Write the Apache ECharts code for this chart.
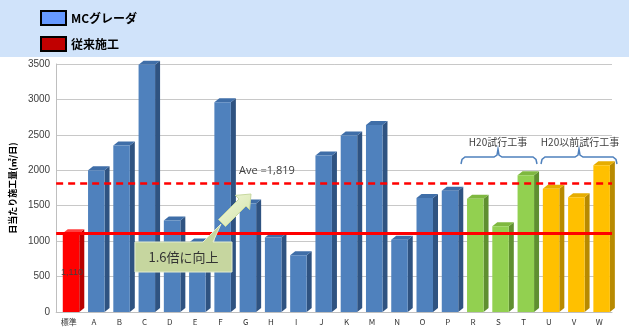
<!DOCTYPE html>
<html>
<head>
<meta charset="utf-8">
<script src="https://cdn.jsdelivr.net/npm/echarts@6/dist/echarts.min.js"></script>
<style>
html,body{margin:0;padding:0;background:#ffffff;}
#chart{width:629px;height:329px;}
</style>
</head>
<body>
<div id="chart"></div>
<script>
const categories = ['標準','A','B','C','D','E','F','G','H','I','J','K','M','N','O','P','R','S','T','U','V','W'];
const values = [1110,2000,2350,3490,1290,980,2960,1530,1050,800,2210,2490,2640,1020,1610,1710,1600,1210,1930,1740,1620,2070];
const groups = ['std','mc','mc','mc','mc','mc','mc','mc','mc','mc','mc','mc','mc','mc','mc','mc','h20','h20','h20','pre','pre','pre'];
const yTicks = [0,500,1000,1500,2000,2500,3000,3500];
const standardValue = 1110;
const averageValue = 1819;

const palette = {
  std: {front:'#ff0000', side:'#b80000', top:'#ff4040'},
  mc:  {front:'#4f81bd', side:'#2f5381', top:'#3f6ea8'},
  h20: {front:'#92d050', side:'#5f8f30', top:'#7fb840'},
  pre: {front:'#ffc000', side:'#b88a00', top:'#e6ad00'}
};

const stdData = [], mcData = [];
values.forEach((v,i)=>{
  if(groups[i]==='std') stdData.push([i,v,i]); else mcData.push([i,v,i]);
});

function renderBar(params, api){
  const xi = api.value(0), v = api.value(1), idx = api.value(2);
  const c = palette[groups[idx]];
  const top = api.coord([xi, v]);
  const base = api.coord([xi, 0]);
  const bw = 16.5, dx = 5, dy = 4;
  const x0 = top[0] - 6;
  const x1 = x0 + bw;
  const children = [
    {type:'polygon', shape:{points:[[x1,top[1]],[x1+dx,top[1]-dy],[x1+dx,base[1]-dy],[x1,base[1]]]}, style:{fill:c.side}},
    {type:'polygon', shape:{points:[[x0,top[1]],[x0+dx,top[1]-dy],[x1+dx,top[1]-dy],[x1,top[1]]]}, style:{fill:c.top}},
    {type:'rect', shape:{x:x0, y:top[1], width:bw, height:base[1]-top[1]}, style:{fill:c.front}}
  ];
  if(groups[idx]==='std'){
    const mid = api.coord([xi, v/2]);
    children.push({type:'text', style:{text:values[idx].toLocaleString('en-US'), x:x0+bw/2+1, y:mid[1], align:'center', verticalAlign:'middle', fill:'#404040', font:'9px "Liberation Sans", Arial, sans-serif'}});
  }
  return {type:'group', children};
}

function bracket(l, r, peak){
  return [[l,164],[l+1,159.5],[l+4,157],[peak-4,157],[peak-1,155],[peak,149],[peak+1,155],[peak+4,157],[r-4,157],[r-1,159.5],[r,164]];
}

const chart = echarts.init(document.getElementById('chart'), null, {renderer:'canvas'});
const jp = '"Noto Sans CJK JP", sans-serif';

chart.setOption({
  animation:false,
  backgroundColor:'#ffffff',
  grid:{left:45, right:17, top:64, bottom:17},
  legend:{
    orient:'vertical', left:40, top:10, itemWidth:25, itemHeight:14, itemGap:10, padding:[0,0,0,0],
    icon:'rect', selectedMode:false,
    textStyle:{fontFamily:jp, fontSize:12, fontWeight:'bold', color:'#000'},
    data:[
      {name:'MCグレーダ', itemStyle:{color:'#6699ff', borderColor:'#000', borderWidth:2}},
      {name:'従来施工', itemStyle:{color:'#c00000', borderColor:'#000', borderWidth:2}}
    ]
  },
  xAxis:{
    type:'category', data:categories, boundaryGap:true,
    axisLine:{lineStyle:{color:'#bfbfbf'}}, axisTick:{show:false},
    axisLabel:{fontFamily:jp, fontSize:8, color:'#333', margin:6, interval:0}
  },
  yAxis:{
    type:'value', min:0, max:3500, interval:500,
    name:'日当たり施工量(㎡/日)', nameLocation:'middle', nameGap:33, nameRotate:90,
    nameTextStyle:{fontFamily:jp, fontSize:9, fontWeight:'bold', color:'#000'},
    axisLine:{show:true, lineStyle:{color:'#bfbfbf'}}, axisTick:{show:false},
    axisLabel:{fontFamily:'"Liberation Sans", Arial, sans-serif', fontSize:10, color:'#404040', margin:6,
      formatter:(v)=> yTicks.includes(v) ? String(v) : ''},
    splitLine:{lineStyle:{color:'#c8c8c8'}}
  },
  series:[
    {name:'従来施工', type:'custom', renderItem:renderBar, data:stdData, itemStyle:{color:'#c00000'}, encode:{x:0,y:1}, z:2},
    {name:'MCグレーダ', type:'custom', renderItem:renderBar, data:mcData, itemStyle:{color:'#6699ff'}, encode:{x:0,y:1}, z:2,
      markLine:{
        silent:true, symbol:['none','none'], label:{show:false}, z:5,
        data:[
          {yAxis:standardValue, lineStyle:{color:'#ff0000', width:3, type:'solid'}},
          {yAxis:averageValue, lineStyle:{color:'#ff0000', width:2.5, type:[7,5]}}
        ]
      }
    }
  ],
  graphic:[
    {type:'rect', z:-10, shape:{x:0,y:0,width:629,height:57}, style:{fill:'#d0e3fa'}},
    {type:'text', z:20, style:{text:'Ave =1,819', x:239, y:171, verticalAlign:'middle', fill:'#404040', font:'11px "Open Sans", "Liberation Sans", sans-serif'}},
    {type:'polygon', z:20, shape:{points:[[135,242],[203,242],[221,224],[213,242],[232,242],[232,272],[135,272]]},
      style:{fill:'#c6d69f', stroke:'#e4edcf', lineWidth:1}},
    {type:'polygon', z:21, shape:{points:[[218.5,219.5],[239,199],[235.4,195.4],[251,194],[249.6,209.6],[246,206],[225.5,226.5]]},
      style:{fill:{type:'linear',x:0,y:0,x2:1,y2:1,colorStops:[{offset:0,color:'#f2f8dc'},{offset:1,color:'#d3e3a8'}]}, stroke:'#c8d8a0', lineWidth:1}},
    {type:'text', z:22, style:{text:'1.6倍に向上', x:183.5, y:257, align:'center', verticalAlign:'middle', fill:'#333', font:'13px "Noto Sans CJK JP", sans-serif'}},
    {type:'polyline', z:20, shape:{points:bracket(461,537,498)}, style:{fill:null, stroke:'#4f81bd', lineWidth:1.5}},
    {type:'polyline', z:20, shape:{points:bracket(541,617,579)}, style:{fill:null, stroke:'#4f81bd', lineWidth:1.5}},
    {type:'text', z:20, style:{text:'H20試行工事', x:498, y:142, align:'center', verticalAlign:'middle', fill:'#404040', font:'10px "Noto Sans CJK JP", sans-serif'}},
    {type:'text', z:20, style:{text:'H20以前試行工事', x:580, y:142, align:'center', verticalAlign:'middle', fill:'#404040', font:'10px "Noto Sans CJK JP", sans-serif'}}
  ]
});
</script>
</body>
</html>
